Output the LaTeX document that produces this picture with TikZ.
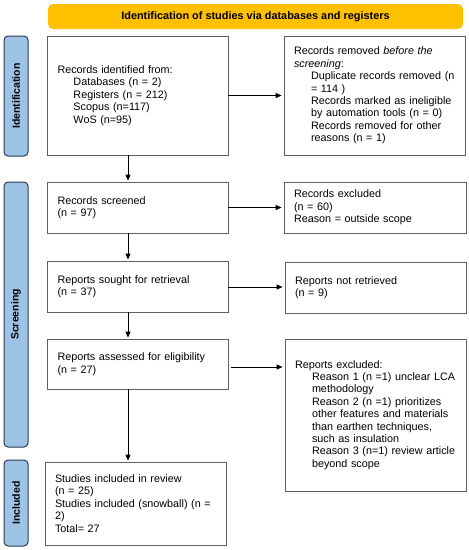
\documentclass[tikz,border=0pt]{standalone}
\usepackage{fontspec}
\setmainfont{Liberation Sans}
\usetikzlibrary{arrows.meta,calc}
\definecolor{hdr}{HTML}{FFC000}
\definecolor{side}{HTML}{9DC3E6}
\definecolor{sideb}{HTML}{2F3B4C}
\definecolor{boxb}{HTML}{606060}
\begin{document}
\begin{tikzpicture}[x=1pt,y=-1pt,
  every node/.style={font=\fontsize{10.8}{12.4}\selectfont},
  fbox/.style={draw=boxb, line width=0.8pt, fill=white, inner xsep=10pt, inner ysep=0pt, align=left, anchor=center},
  sidebar/.style={draw=sideb, fill=side, line width=1pt, rounded corners=4pt, minimum width=24pt, inner sep=0pt, anchor=center},
  sidelabel/.style={rotate=90, font=\bfseries\fontsize{10.5}{12}\selectfont},
  arr/.style={-{Triangle[length=6pt,width=5pt]}, line width=0.9pt, shorten >=2pt}
]
\useasboundingbox (0,0) rectangle (469,550);
\fill[white] (0,0) rectangle (469,550);

\node[fill=hdr, rounded corners=5pt, minimum width=415pt, minimum height=25pt, inner sep=0pt, font=\bfseries\fontsize{10.9}{12}\selectfont] (hdr) at (255.5,16.5) {Identification of studies via databases and registers};

\node[sidebar, minimum height=120pt] (sid) at (16,96) {};
\node[sidelabel] (sidl) at (sid.center) {Identification};
\node[sidebar, minimum height=265pt] (ssc) at (16,314.5) {};
\node[sidelabel] (sscl) at (ssc.center) {Screening};
\node[sidebar, minimum height=86pt] (sin) at (16,503) {};
\node[sidelabel] (sinl) at (sin.center) {Included};

\node[fbox, text width=160pt, minimum height=119pt, inner xsep=10.5pt] (b1) at (137.5,95.5) {Records identified from:\\
\hspace*{16pt}Databases (n = 2)\\
\hspace*{16pt}Registers (n = 212)\\
\hspace*{16pt}Scopus (n=117)\\
\hspace*{16pt}WoS (n=95)};

\node[fbox, text width=161pt, minimum height=119pt] (r1) at (374.5,95.5) {Records removed \textit{before the}\\
\textit{screening}:\\
\hspace*{17pt}Duplicate records removed (n\\
\hspace*{17pt}= 114 )\\
\hspace*{17pt}Records marked as ineligible\\
\hspace*{17pt}by automation tools (n = 0)\\
\hspace*{17pt}Records removed for other\\
\hspace*{17pt}reasons (n = 1)};

\node[fbox, text width=160pt, minimum height=51pt, inner xsep=10.5pt] (b2) at (137.5,207.5) {Records screened\\(n = 97)};
\node[fbox, text width=162pt, minimum height=51pt] (r2) at (375,207.5) {Records excluded\\(n = 60)\\Reason = outside scope};

\node[fbox, text width=160pt, minimum height=51pt, inner xsep=10.5pt] (b3) at (137.5,286.5) {Reports sought for retrieval\\(n = 37)};
\node[fbox, text width=161pt, minimum height=51pt] (r3) at (375.5,287.5) {Reports not retrieved\\(n = 9)};

\node[fbox, text width=160pt, minimum height=50pt, inner xsep=10.5pt] (b4) at (137.5,364) {Reports assessed for eligibility\\(n = 27)};
\node[fbox, text width=161pt, minimum height=152pt] (r4) at (375.5,415) {Reports excluded:\\
\hspace*{17pt}Reason 1 (n =1) unclear LCA\\
\hspace*{17pt}methodology\\
\hspace*{17pt}Reason 2 (n =1) prioritizes\\
\hspace*{17pt}other features and materials\\
\hspace*{17pt}than earthen techniques,\\
\hspace*{17pt}such as insulation\\
\hspace*{17pt}Reason 3 (n=1) review article\\
\hspace*{17pt}beyond scope};

\node[fbox, text width=161pt, minimum height=83pt] (b5) at (135.5,503.5) {Studies included in review\\
(n = 25)\\
Studies included (snowball) (n =\\
2)\\
Total= 27};

% horizontal arrows
\draw[arr] (b1.east) -- (r1.west);
\draw[arr] (b2.east) -- (r2.west);
\draw[arr] (b3.east |- 0,287) -- (r3.west |- 0,287);
\draw[arr] ([xshift=3pt,yshift=-3pt]b4.east) -- ([yshift=-3pt]b4.east -| r4.west);

% vertical arrows
\draw[arr, shorten >=1pt] ([xshift=-9.5pt]b1.south) -- ([xshift=-9.5pt]b1.south |- b2.north);
\draw[arr, shorten >=1pt] ([xshift=-9.5pt]b2.south) -- ([xshift=-9.5pt]b2.south |- b3.north);
\draw[arr, shorten >=1pt] ([xshift=-9.5pt]b3.south) -- ([xshift=-9.5pt]b3.south |- b4.north);
\draw[arr, shorten >=1pt] ([xshift=-9.5pt]b4.south) -- ([xshift=-9.5pt]b4.south |- b5.north);
\end{tikzpicture}
\end{document}
